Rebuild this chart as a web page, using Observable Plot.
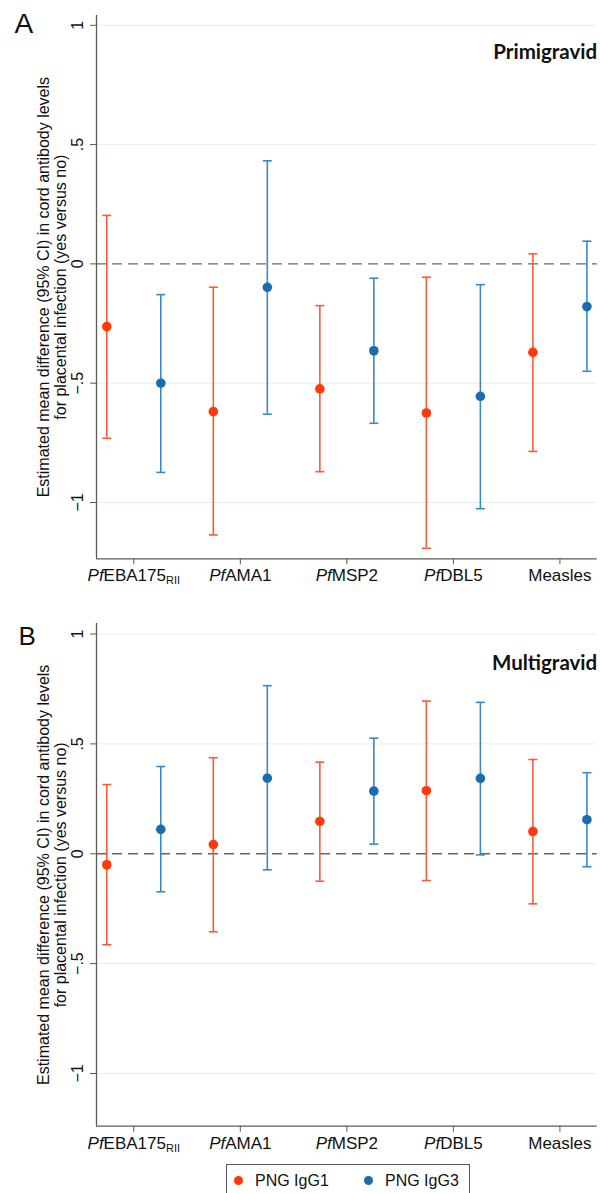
<!DOCTYPE html>
<html><head><meta charset="utf-8">
<script src="https://cdn.jsdelivr.net/npm/d3@7"></script>
<script src="https://cdn.jsdelivr.net/npm/@observablehq/plot@0.6"></script>
<style>
body{margin:0;background:#fff;width:600px;height:1193px;overflow:hidden;font-family:"Liberation Sans",Arial,sans-serif;position:relative;}
#chart svg{display:block;overflow:visible;}
#legend{position:absolute;left:226px;top:1164px;width:244px;height:44px;border:1px solid #555;box-sizing:border-box;background:#fff;font-size:16px;color:#111;}
#legend .dot{position:absolute;width:9px;height:9px;border-radius:50%;top:11px;}
#legend .lab{position:absolute;top:6px;line-height:20px;}
</style></head><body>
<div id="chart"></div>
<div id="legend"></div>
<script>
const categories = ["PfEBA175RII","PfAMA1","PfMSP2","PfDBL5","Measles"];
const series = ["PNG IgG1","PNG IgG3"];
const seriesColors = ["#fe3a08","#1a6cae"];
const barColors = ["#f75c38","#3a89c6"];
const yTicks = [-1,-0.5,0,0.5,1];
const yTickLabels = ["\u22121","\u2212.5","0",".5","1"];
const yTitle = "Estimated mean difference (95% CI) in cord antibody levels\nfor placental infection (yes versus no)";

// Panel A: Primigravid
const primiIgG1Est = [-0.263,-0.619,-0.524,-0.625,-0.371];
const primiIgG1Lo  = [-0.731,-1.136,-0.871,-1.192,-0.786];
const primiIgG1Hi  = [0.203,-0.098,-0.175,-0.056,0.042];
const primiIgG3Est = [-0.500,-0.098,-0.364,-0.555,-0.179];
const primiIgG3Lo  = [-0.874,-0.630,-0.668,-1.026,-0.450];
const primiIgG3Hi  = [-0.129,0.432,-0.060,-0.087,0.095];

// Panel B: Multigravid
const multiIgG1Est = [-0.050,0.042,0.147,0.287,0.101];
const multiIgG1Lo  = [-0.414,-0.355,-0.125,-0.122,-0.228];
const multiIgG1Hi  = [0.315,0.437,0.417,0.695,0.429];
const multiIgG3Est = [0.111,0.344,0.285,0.343,0.155];
const multiIgG3Lo  = [-0.173,-0.073,0.044,-0.005,-0.059];
const multiIgG3Hi  = [0.397,0.765,0.526,0.689,0.369];

const axisColor = "#5a5a5a";
const gridColor = "#e6eff0";
const capSymbol = {draw(ctx, size){ const w = Math.sqrt(size/Math.PI); ctx.moveTo(-w,0); ctx.lineTo(w,0); }};

function rows(est, lo, hi){
  return categories.map((c,i)=>({i, cat:c, est:est[i], lo:lo[i], hi:hi[i]}));
}

function panel(o){
  const xDomain = [-0.35, 4.35];
  const sets = [rows(o.est1,o.lo1,o.hi1), rows(o.est3,o.lo3,o.hi3)];
  const offs = [-27, 27];
  const marks = [
    Plot.ruleY(yTicks.filter(d=>d!==0), {stroke: gridColor, strokeWidth: 1}),
    Plot.ruleY([0], {stroke:"#666", strokeDasharray:"10,6", strokeWidth:1.3}),
    Plot.ruleX([xDomain[0]], {stroke: axisColor, strokeWidth: 1.3}),
    Plot.ruleY([o.yDomain[0]], {stroke: axisColor, strokeWidth: 1.3}),
    Plot.axisY({ticks: yTicks, tickSize: 6, tickFormat: () => "", label: null, stroke: axisColor}),
    Plot.axisX({ticks: d3.range(categories.length), tickFormat: i => categories[i], tickSize: 6, tickPadding: 4.5, fontSize: 17, label: null, stroke: axisColor, fill: "#111"}),
    Plot.text(yTicks, {y: d=>d, text: (d,i)=>yTickLabels[i], frameAnchor:"left", dx:-19, rotate:-90, textAnchor:"middle", lineAnchor:"middle", fontSize:16, fill:"#111"}),
    Plot.text([yTitle], {frameAnchor:"left", dx:-44.5, rotate:-90, textAnchor:"middle", lineAnchor:"middle", fontSize:16, lineHeight:1.07, fill:"#111"}),
    Plot.text([o.title], {frameAnchor:"top-right", dy:o.titleDy, lineAnchor:"bottom", textAnchor:"end", fontFamily:"Lato", fontWeight:"bold", fontSize:20.5, fill:"#111"}),
    Plot.text([o.letter], {frameAnchor:"top-left", dx:o.letterDx, dy:o.letterDy, lineAnchor:"bottom", textAnchor:"start", fontSize:o.letterSize, fill:"#111"})
  ];
  sets.forEach((data, s) => {
    marks.push(Plot.ruleX(data, {x:"i", y1:"lo", y2:"hi", dx:offs[s], stroke:barColors[s], strokeWidth:1.6}));
    marks.push(Plot.dot(data, {x:"i", y:"lo", dx:offs[s], symbol:capSymbol, r:4.5, fill:"none", stroke:barColors[s], strokeWidth:1.6}));
    marks.push(Plot.dot(data, {x:"i", y:"hi", dx:offs[s], symbol:capSymbol, r:4.5, fill:"none", stroke:barColors[s], strokeWidth:1.6}));
    marks.push(Plot.dot(data, {x:"i", y:"est", dx:offs[s], r:4.8, fill:seriesColors[s], stroke:"none"}));
  });
  const svg = Plot.plot({
    width: 600, height: o.height,
    marginLeft: 96, marginRight: 3.3, marginTop: o.marginTop, marginBottom: o.marginBottom,
    x: {domain: xDomain, axis: null},
    y: {domain: o.yDomain, axis: null},
    style: {fontFamily: "'Liberation Sans', Arial, sans-serif", fontSize: "16px", color: "#111", background: "transparent", overflow: "visible"},
    marks
  });
  // italic "Pf" prefixes and subscript
  svg.querySelectorAll('g[aria-label="x-axis tick label"] text').forEach(t => {
    const s = t.textContent;
    if (s.startsWith("Pf")) {
      let rest = s.slice(2), sub = "";
      if (rest.endsWith("RII")) { sub = "RII"; rest = rest.slice(0, -3); }
      t.textContent = "";
      const ns = "http://www.w3.org/2000/svg";
      const a = document.createElementNS(ns, "tspan"); a.setAttribute("font-style","italic"); a.textContent = "Pf"; t.appendChild(a);
      const b = document.createElementNS(ns, "tspan"); b.textContent = rest; t.appendChild(b);
      if (sub) { const c = document.createElementNS(ns, "tspan"); c.setAttribute("font-size","11"); c.setAttribute("dy","3"); c.textContent = sub; t.appendChild(c); }
    }
  });
  return svg;
}

const chart = document.getElementById("chart");
chart.appendChild(panel({
  est1: primiIgG1Est, lo1: primiIgG1Lo, hi1: primiIgG1Hi,
  est3: primiIgG3Est, lo3: primiIgG3Lo, hi3: primiIgG3Hi,
  height: 600, marginTop: 15, marginBottom: 41.7, yDomain: [-1.236, 1.041],
  title: "Primigravid", titleDy: 43.5, letter: "A", letterDx: -82, letterDy: 17, letterSize: 28
}));
chart.appendChild(panel({
  est1: multiIgG1Est, lo1: multiIgG1Lo, hi1: multiIgG1Hi,
  est3: multiIgG3Est, lo3: multiIgG3Lo, hi3: multiIgG3Hi,
  height: 560, marginTop: 23, marginBottom: 34.3, yDomain: [-1.24, 1.048],
  title: "Multigravid", titleDy: 46, letter: "B", letterDx: -78, letterDy: 21, letterSize: 26
}));

const legend = document.getElementById("legend");
const dotX = [11, 141], labX = [28, 158];
series.forEach((s, k) => {
  const d = document.createElement("span"); d.className = "dot"; d.style.left = (dotX[k]-4.5) + "px"; d.style.background = seriesColors[k]; legend.appendChild(d);
  const l = document.createElement("span"); l.className = "lab"; l.style.left = labX[k] + "px"; l.textContent = s; legend.appendChild(l);
});
</script>
</body></html>
